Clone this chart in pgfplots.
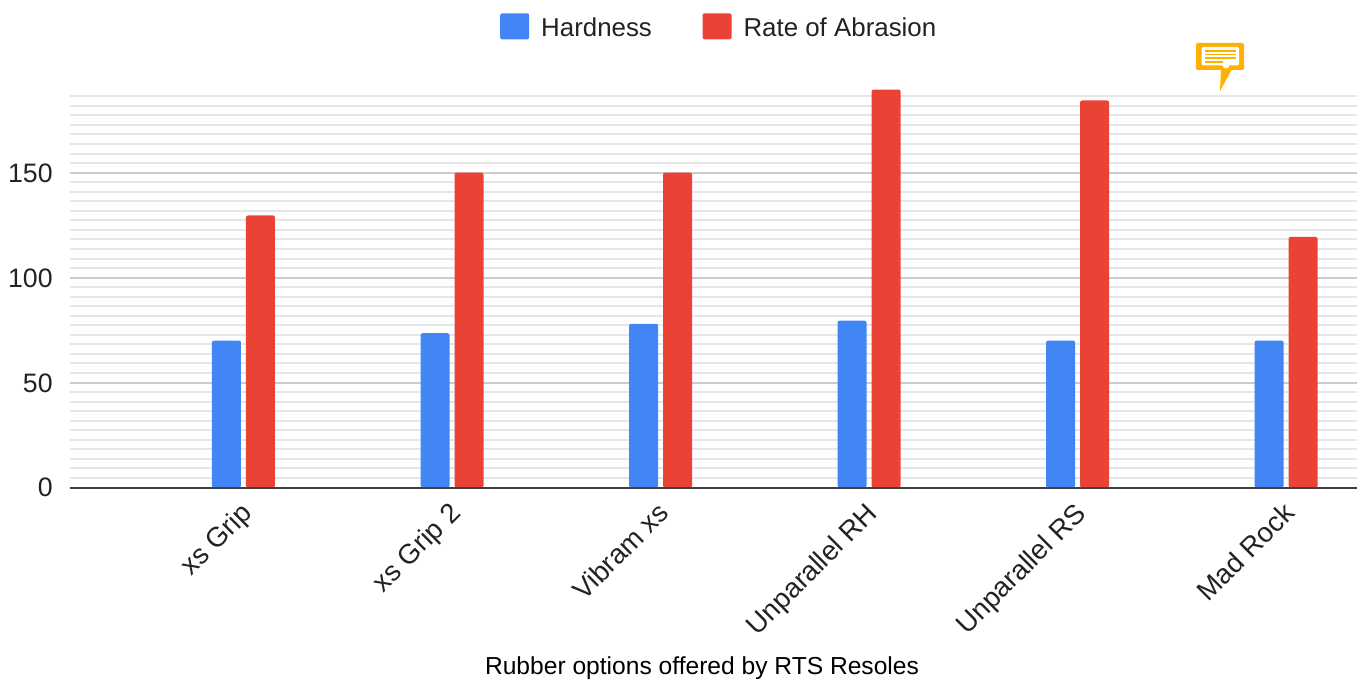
\documentclass[border=0pt]{standalone}
\usepackage{fontspec}
\setmainfont{Liberation Sans}
\usepackage{pgfplots}
\pgfplotsset{compat=1.18}
\usepackage{pgfplotstable}
\definecolor{hardblue}{HTML}{4285F4}
\definecolor{abrred}{HTML}{EA4335}
\definecolor{iconor}{HTML}{FFB000}
\definecolor{gridmin}{HTML}{E6E6E6}
\definecolor{gridmaj}{HTML}{CCCCCC}
\definecolor{txt}{HTML}{222222}
\definecolor{baseln}{HTML}{404040}

% x  hardness  abrasion
\pgfplotstableread{
x hard abr
0 70 129.6
1 73.5 150
2 78 150
3 79.5 189.6
4 70 184.4
5 70 119.4
}\rubber

\begin{document}
\begin{tikzpicture}
\useasboundingbox (0,0) rectangle (1020.75pt,509.25pt);
\begin{axis}[
    at={(52.5pt,143.6pt)}, anchor=south west,
    scale only axis,
    width=965.25pt, height=293.4pt,
    xmin=-0.832, xmax=5.34,
    ymin=0, ymax=186.36,
    clip=false,
    ybar=3.75pt,
    bar width=21.75pt,
    axis x line=bottom,
    axis y line=left,
    x axis line style={-, draw=none},
    y axis line style={-, draw=none},
    xtick={0,1,2,3,4,5},
    xticklabels={xs Grip, xs Grip 2, Vibram xs, Unparallel RH, Unparallel RS, Mad Rock},
    x tick label style={rotate=45, anchor=north east, font=\fontsize{20.7}{21}\selectfont, text=txt, xshift=-5.75pt, yshift=-1.25pt},
    y tick label style={font=\fontsize{20}{20}\selectfont, text=txt, /pgf/number format/assume math mode=true, xshift=-9.5pt, yshift=-0.2pt},
    major tick length=0pt,
    minor tick length=0pt,
    ytick={0,50,100,150},
    % eleven steps between the labelled lines, carried on above 150
    minor ytick={4.545,9.091,13.636,18.182,22.727,27.273,31.818,36.364,40.909,45.455,
        54.545,59.091,63.636,68.182,72.727,77.273,81.818,86.364,90.909,95.455,
        104.545,109.091,113.636,118.182,122.727,127.273,131.818,136.364,140.909,145.455,
        154.545,159.091,163.636,168.182,172.727,177.273,181.818,186.36},
    ymajorgrids, yminorgrids,
    major grid style={gridmaj, line width=1.5pt},
    minor grid style={gridmin, line width=1.5pt},
    legend style={
        at={(0.5047,1.134)}, anchor=south, draw=none, fill=none,
        legend columns=2, font=\fontsize{19.4}{20}\selectfont, text=txt,
        /tikz/every even column/.append style={column sep=36pt},
        /tikz/every odd column/.append style={column sep=7pt},
        legend cell align=left,
    },
    legend image code/.code={\fill[#1, rounded corners=1.5pt] (0,-8.5pt) rectangle (21.75pt,11pt);},
]
\addplot[fill=hardblue, draw=none, rounded corners=1.5pt] table[x=x, y=hard] {\rubber};
\addplot[fill=abrred, draw=none, rounded corners=1.5pt] table[x=x, y=abr] {\rubber};
\addplot[forget plot, sharp plot, draw=baseln, line width=1.5pt] coordinates {(-0.832,0) (5.34,0)};
\legend{Hardness, Rate of Abrasion}
\end{axis}
\begin{scope}[x=0.75pt, y=-0.75pt, shift={(0,509.25pt)}]
% x title
\node[text=black, font=\fontsize{18.45}{20}\selectfont] at (702,668) {Rubber options offered by RTS Resoles};
% note icon
\fill[iconor, rounded corners=1pt] (1196,43) rectangle (1244,70);
\fill[iconor] (1221,69) -- (1232,69) -- (1220,91) -- cycle;
\fill[white, rounded corners=1pt] (1201.5,47) rectangle (1239,65.5);
\fill[white] (1226,65) circle[radius=3.5];
\foreach \yy/\xe in {51/1236,54.7/1236,58.3/1236,62.3/1223}
  \fill[iconor] (1204.7,\yy-0.8) rectangle (\xe,\yy+0.8);
\end{scope}
\end{tikzpicture}
\end{document}
